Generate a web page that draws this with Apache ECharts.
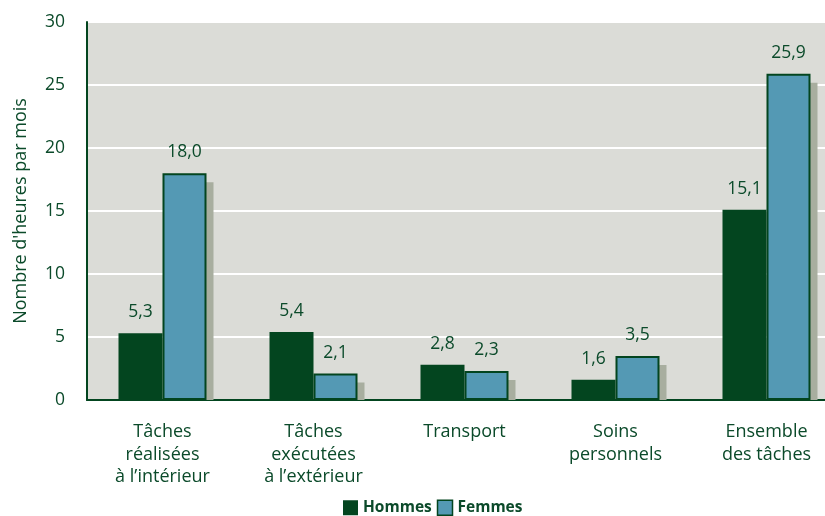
<!DOCTYPE html>
<html><head><meta charset="utf-8">
<script src="https://cdn.jsdelivr.net/npm/echarts@6/dist/echarts.min.js"></script>
<style>html,body{margin:0;padding:0;background:#fff}#c{width:825px;height:516px}</style>
</head><body><div id="c"></div>
<script>
const categories = ["Tâches\nréalisées\nà l’intérieur", "Tâches\nexécutées\nà l’extérieur", "Transport", "Soins\npersonnels", "Ensemble\ndes tâches"];
const hommes = [5.3, 5.4, 2.8, 1.6, 15.1];
const femmes = [18.0, 2.1, 2.3, 3.5, 25.9];
const yTicks = [0, 5, 10, 15, 20, 25, 30];

const green = '#03451f';
const blue = '#5499b4';
const txt = '#0b4a2a';
const fmt = p => p.value.toFixed(1).replace('.', ',');
const font = 'Open Sans';

const chart = echarts.init(document.getElementById('c'));
chart.setOption({
  animation: false,
  textStyle: { fontFamily: font },
  grid: { left: 87, width: 755, top: 22, bottom: 116, backgroundColor: '#dbdcd7', show: true, borderWidth: 0, outerBoundsMode: 'none', containLabel: false },
  legend: {
    bottom: 0, left: 343, padding: 0, itemWidth: 15, itemHeight: 15, itemGap: 5,
    textStyle: { fontFamily: font, fontWeight: 'bold', fontSize: 15.5, color: txt },
    data: [{ name: 'Hommes', icon: 'rect' }, { name: 'Femmes', icon: 'rect', itemStyle: { borderColor: green, borderWidth: 1.5 } }]
  },
  xAxis: {
    type: 'category', data: categories,
    axisLine: { lineStyle: { color: green, width: 2 } },
    axisTick: { show: false },
    axisLabel: { color: txt, fontSize: 18, lineHeight: 22.5, margin: 21, fontFamily: font }
  },
  yAxis: {
    type: 'value', min: yTicks[0], max: yTicks[yTicks.length - 1], interval: 5,
    name: "Nombre d'heures par mois", nameLocation: 'middle', nameGap: 57,
    nameTextStyle: { color: txt, fontSize: 18, fontFamily: font },
    axisLine: { show: true, lineStyle: { color: green, width: 2 } },
    axisTick: { show: false },
    axisLabel: { color: txt, fontSize: 17.5, margin: 22, fontFamily: font },
    splitLine: { lineStyle: { color: '#ffffff', width: 2 } }
  },
  series: [
    {
      name: 'shadow', type: 'custom', z: 1, silent: true,
      data: femmes.map((v, i) => [i, v]),
      renderItem: function (params, api) {
        const top = api.coord([api.value(0), api.value(1)]);
        const bot = api.coord([api.value(0), 0]);
        const w = 44;
        return {
          type: 'rect',
          shape: { x: top[0] + 7, y: top[1] + 9, width: w, height: bot[1] - top[1] - 9 },
          style: { fill: '#a8ae9f' }
        };
      }
    },
    {
      name: 'Hommes', type: 'bar', data: hommes, barWidth: 44, barGap: '0%', z: 2,
      itemStyle: { color: green },
      label: { show: true, position: 'top', distance: 12, color: txt, fontSize: 17.5, formatter: fmt, fontFamily: font }
    },
    {
      name: 'Femmes', type: 'bar', data: femmes, barWidth: 44, z: 3,
      itemStyle: { color: blue, borderColor: green, borderWidth: 2 },
      label: { show: true, position: 'top', distance: 12, color: txt, fontSize: 17.5, formatter: fmt, fontFamily: font }
    }
  ]
});
</script></body></html>
